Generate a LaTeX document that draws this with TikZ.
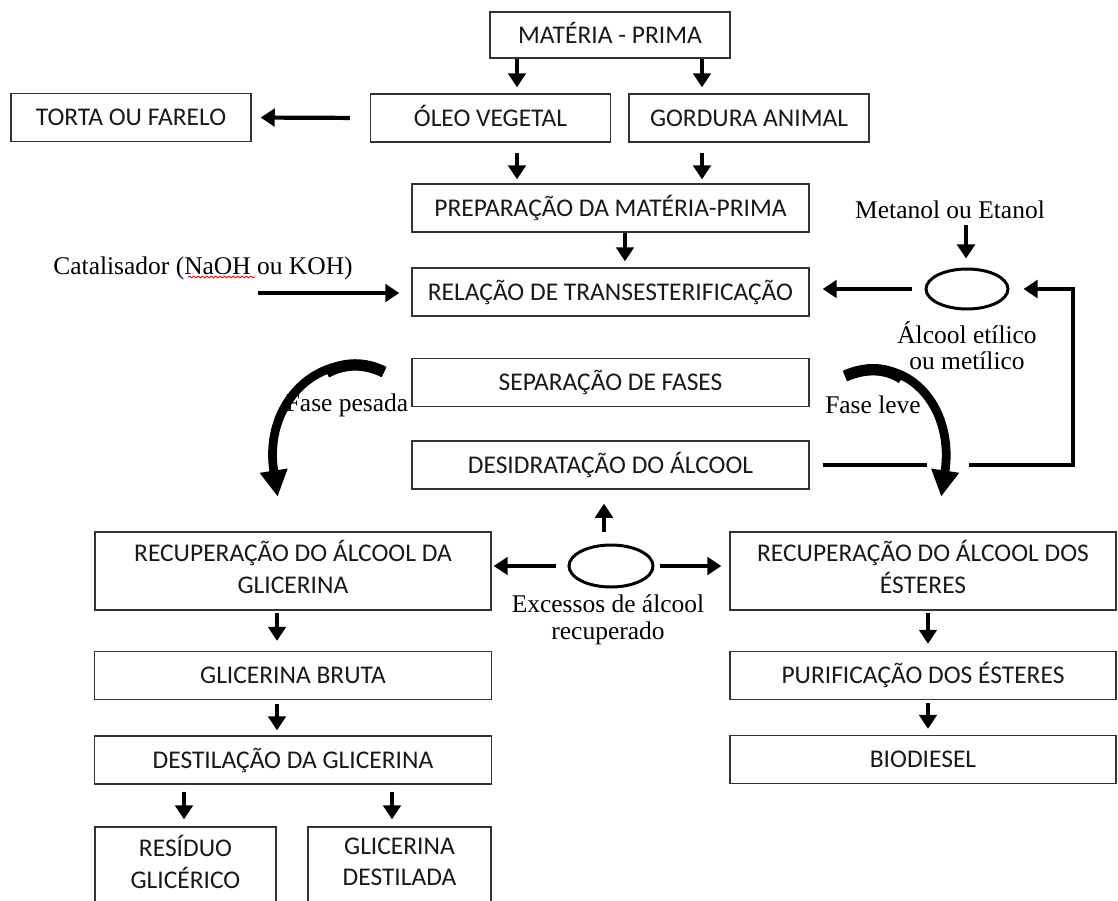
\documentclass[tikz,border=0pt]{standalone}
\usepackage{fontspec}
\setmainfont{Liberation Serif}
\newfontfamily\calibri{Carlito}
\usetikzlibrary{arrows.meta,shapes.geometric,decorations.pathmorphing}

\begin{document}
\begin{tikzpicture}[
    x=0.02cm, y=-0.02cm,
    box/.style={
        draw=black!80,
        line width=0.8pt,
        minimum height=0.96cm,
        inner sep=0pt,
        align=center,
        text=black!90,
        font=\calibri\fontsize{14.5}{18}\selectfont
    },
    one/.style={text height=9.4pt, text depth=0pt},
    half/.style={box, one, minimum width=4.8cm},
    wide/.style={box, one, minimum width=7.94cm},
    side/.style={box, one, minimum width=7.72cm},
    tall/.style={box, minimum height=1.56cm, text depth=5pt},
    lbl/.style={
        font=\fontsize{14.5}{15}\selectfont,
        align=center
    },
    ring/.style={
        ellipse,
        draw,
        line width=1.7pt,
        inner sep=0pt,
        minimum width=1.64cm,
        minimum height=0.8cm
    },
    arr/.style={
        -{Triangle[length=8pt,width=10pt]},
        line width=2.4pt
    },
    swing/.style={
        -{Triangle[length=15pt,width=15pt]},
        line width=5pt
    }
]
    \fill[white] (0,0) rectangle (1118,900);
    \useasboundingbox (0,0) rectangle (1118,900);
    \clip (0,0) rectangle (1118,900);

    % boxes
    \node[half, minimum height=0.92cm] (mp) at (610,35) {MATÉRIA - PRIMA};
    \node[half] (torta) at (131,117.5) {TORTA OU FARELO};
    \node[half] (oleo) at (490.5,118) {ÓLEO VEGETAL};
    \node[half] (gord) at (749,118) {GORDURA ANIMAL};
    \node[wide] (prep) at (610.5,208) {PREPARAÇÃO DA MATÉRIA-PRIMA};
    \node[wide] (rel) at (610.5,292) {RELAÇÃO DE TRANSESTERIFICAÇÃO};
    \node[wide] (sep) at (610.5,382.5) {SEPARAÇÃO DE FASES};
    \node[wide] (desid) at (610.5,465) {DESIDRATAÇÃO DO ÁLCOOL};
    \node[tall, minimum width=7.92cm] (recglic) at (293,571) {RECUPERAÇÃO DO ÁLCOOL DA\\GLICERINA};
    \node[tall, minimum width=7.72cm] (recest) at (923,571) {RECUPERAÇÃO DO ÁLCOOL DOS\\ÉSTERES};
    \node[wide] (brut) at (293,675.5) {GLICERINA BRUTA};
    \node[wide] (destil) at (293,760) {DESTILAÇÃO DA GLICERINA};
    \node[side] (purif) at (923,675.5) {PURIFICAÇÃO DOS ÉSTERES};
    \node[side] (bio) at (923,759.5) {BIODIESEL};
    \node[tall, minimum width=3.62cm] (res) at (185.5,866) {RESÍDUO\\GLICÉRICO};
    \node[tall, minimum width=3.66cm] (gdest) at (399.5,866) {GLICERINA\\DESTILADA};

    % alcohol rings
    \node[ring] (alc) at (967,289) {};
    \node[ring, minimum width=1.68cm, minimum height=0.84cm] (exc) at (611,566) {};

    \coordinate (catin) at (258,293);
    \coordinate (gapL) at (927,465);
    \coordinate (gapR) at (969,465);
    \coordinate (pesA) at (384,372);
    \coordinate (levA) at (845,376);

    % phase arrows (thicker at the tail)
    \draw[swing, shorten >=0.7cm] (pesA) .. controls (330,345) and (262,395) .. (recglic.north -| 283,0);
    \draw[line width=6.5pt] (pesA) .. controls (365.1,362.5) and (344.5,362.5) .. (326.5,372.4);
    \draw[swing, shorten >=0.7cm] (levA) .. controls (905,350) and (955,405) .. (recest.north -| 936,0);
    \draw[line width=6.5pt] (levA) .. controls (866,366.9) and (885.8,367.7) .. (901.8,378.1);

    % labels
    \node[lbl] (cat) at (203,268) {Catalisador (NaOH ou KOH)};
    \node[lbl] (met) at (950,210) {Metanol ou Etanol};
    \node[lbl] (alctxt) at (967,346) {Álcool etílico\\ou metílico};
    \node[lbl] (exctxt) at (608,620) {Excessos de álcool\\recuperado};
    \node[lbl] (pesada) at (347,405) {Fase pesada};
    \node[lbl] (leve) at (873,405) {Fase leve};
    \draw[red, line width=0.5pt, decorate,
        decoration={snake, amplitude=0.5pt, segment length=2.5pt}] (188,277) -- (255,277);

    % straight arrows
    \draw[arr, shorten >=0.12cm] (mp.south -| 517,0) -- (oleo.north -| 517,0);
    \draw[arr, shorten >=0.12cm] (mp.south -| 702,0) -- (gord.north -| 702,0);
    \draw[arr, shorten <=0.2cm, shorten >=0.08cm] (oleo.south -| 517,0) -- (prep.north -| 517,0);
    \draw[arr, shorten <=0.2cm, shorten >=0.08cm] (gord.south -| 702,0) -- (prep.north -| 702,0);
    \draw[arr, shorten >=0.12cm] (prep.south -| 625,0) -- (rel.north -| 625,0);
    \draw[arr, shorten <=0.4cm, shorten >=0.18cm] (oleo.west) -- (torta.east);
    \draw[arr, shorten >=0.24cm] (catin) -- (catin -| rel.west);
    \draw[arr, shorten >=0.18cm] (met.south -| 966,0) -- (alc.north -| 966,0);
    \draw[arr, shorten <=0.26cm, shorten >=0.26cm] (alc.west) -- (alc.west -| rel.east);
    \draw[line width=2.4pt, shorten <=0.26cm] (desid.east) -- (gapL);
    \draw[arr, shorten >=0.28cm] (gapR) -- ++(104,0) |- (alc.east);
    \draw[arr, shorten <=0.24cm, shorten >=0.28cm] (exc.north -| 604,0) -- (desid.south -| 604,0);
    \draw[arr, shorten <=0.24cm, shorten >=0.04cm] (exc.west) -- (exc.west -| recglic.east);
    \draw[arr, shorten <=0.12cm, shorten >=0.16cm] (exc.east) -- (exc.east -| recest.west);
    \draw[arr, shorten <=0.04cm, shorten >=0.2cm] (recglic.south -| 277,0) -- (brut.north -| 277,0);
    \draw[arr, shorten <=0.08cm, shorten >=0.1cm] (brut.south -| 277,0) -- (destil.north -| 277,0);
    \draw[arr, shorten <=0.14cm, shorten >=0.14cm] (destil.south -| 184,0) -- (res.north -| 184,0);
    \draw[arr, shorten <=0.14cm, shorten >=0.14cm] (destil.south -| 392,0) -- (gdest.north -| 392,0);
    \draw[arr, shorten <=0.04cm, shorten >=0.14cm] (recest.south -| 928,0) -- (purif.north -| 928,0);
    \draw[arr, shorten <=0.06cm, shorten >=0.12cm] (purif.south -| 928,0) -- (bio.north -| 928,0);
\end{tikzpicture}
\end{document}
